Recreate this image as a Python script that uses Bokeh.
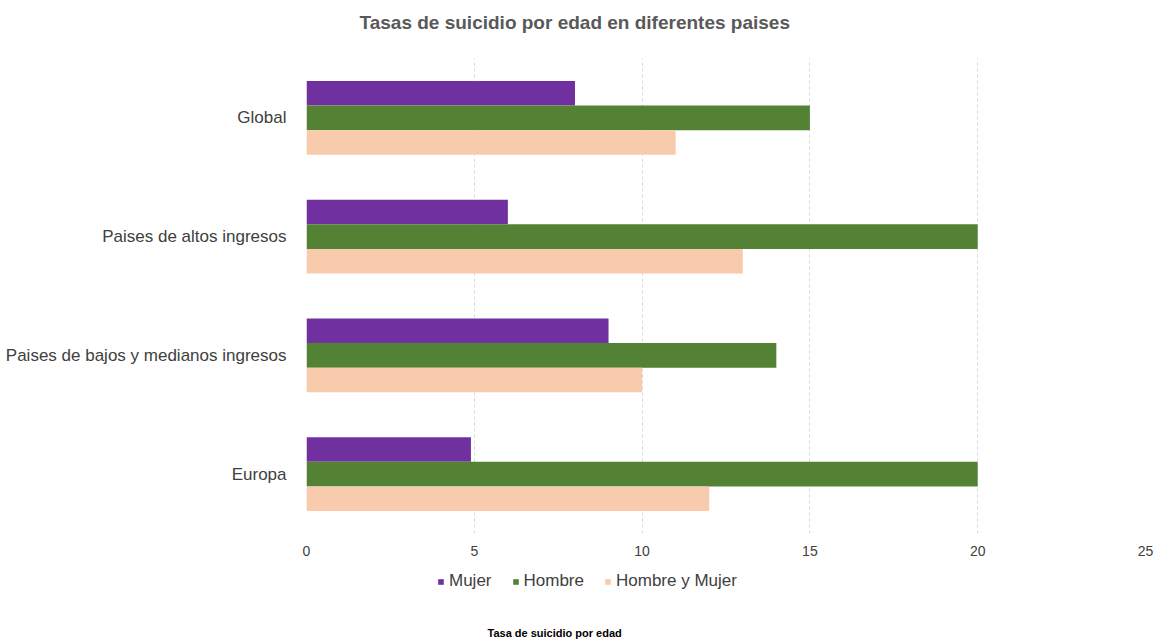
from bokeh.plotting import figure
from bokeh.layouts import column
from bokeh.models import (ColumnDataSource, Range1d, FactorRange, Legend, LegendItem, Label,
                          FixedTicker)
from bokeh.transform import dodge
from bokeh.embed import file_html
from bokeh.resources import INLINE

regions = ["Global", "Paises de altos ingresos", "Paises de bajos y medianos ingresos", "Europa"]
mujer = [8, 6, 9, 4.9]
hombre = [15, 20, 14, 20]
ambos = [11, 13, 10, 12]
series_names = ["Mujer", "Hombre", "Hombre y Mujer"]
colors = ["#7030A0", "#548235", "#F8CBAD"]
x_ticks = [0, 5, 10, 15, 20, 25]
chart_title = "Tasas de suicidio por edad en diferentes paises"
x_title = "Tasa de suicidio por edad"

src = ColumnDataSource(dict(region=regions, mujer=mujer, hombre=hombre, ambos=ambos))
bh = 0.207


def add_bars(fig, h):
    rs = []
    for col, off, c in (("mujer", bh, colors[0]), ("hombre", 0, colors[1]), ("ambos", -bh, colors[2])):
        rs.append(fig.hbar(y=dodge("region", off, range=fig.y_range), right=col, left=0,
                           height=h, source=src, fill_color=c, line_color=None))
    return rs


def strip(height):
    f = figure(width=1157, height=height, output_backend="svg", toolbar_location=None,
               x_axis_type=None, y_axis_type=None,
               y_range=FactorRange(factors=list(reversed(regions))),
               x_range=Range1d(-200, -100))
    f.min_border_left = 306
    f.min_border_right = 12
    f.min_border_top = 0
    f.min_border_bottom = 0
    f.outline_line_color = None
    f.grid.grid_line_color = None
    f.border_fill_color = "white"
    return f


# ---- title strip ----
t = strip(40)
t.add_layout(Label(x=t.x_range.start, y=0, x_offset=53, y_offset=18, text=chart_title,
                   text_baseline="middle", text_font="Liberation Sans", text_font_size="19px",
                   text_font_style="bold", text_color="#595959"))

# ---- main chart ----
p = figure(frame_width=839, frame_height=475, output_backend="svg", toolbar_location=None,
           y_range=FactorRange(factors=list(reversed(regions))),
           x_range=Range1d(0, 25))
p.min_border_left = 306
p.min_border_right = 12
p.min_border_top = 18
p.min_border_bottom = 26
p.outline_line_color = None
p.border_fill_color = "white"

add_bars(p, bh)

p.xaxis.ticker = FixedTicker(ticks=x_ticks)
p.xgrid.ticker = FixedTicker(ticks=x_ticks)
p.xgrid.grid_line_color = "#d9d9d9"
p.xgrid.grid_line_dash = "3 3"
p.ygrid.grid_line_color = None
for ax in (p.xaxis, p.yaxis):
    ax.axis_line_color = None
    ax.major_tick_line_color = None
    ax.minor_tick_line_color = None
    ax.major_label_text_font = "Liberation Sans"
    ax.major_label_text_color = "#404040"
p.xaxis.major_label_text_font_size = "14px"
p.yaxis.major_label_text_font_size = "17px"
p.xaxis.major_label_standoff = 6
p.yaxis.major_label_standoff = 14

# ---- legend + axis title strip ----
q = strip(82)
rs = add_bars(q, 0)

legend = Legend(items=[LegendItem(label=n, renderers=[r]) for n, r in zip(series_names, rs)],
                orientation="horizontal", location=(131, 50),
                glyph_width=7, glyph_height=7, label_standoff=5, spacing=20,
                label_text_font="Liberation Sans", label_text_font_size="17px",
                label_text_color="#404040", border_line_color=None,
                background_fill_alpha=0, padding=4, margin=0)
q.add_layout(legend, "center")

q.add_layout(Label(x=q.x_range.start, y=0, x_offset=181, y_offset=9, text=x_title,
                   text_baseline="middle", text_font="Liberation Sans", text_font_size="11px",
                   text_font_style="bold", text_color="#000000"))

layout = column(t, p, q, spacing=0)
open("out.html", "w").write(file_html(layout, INLINE))
